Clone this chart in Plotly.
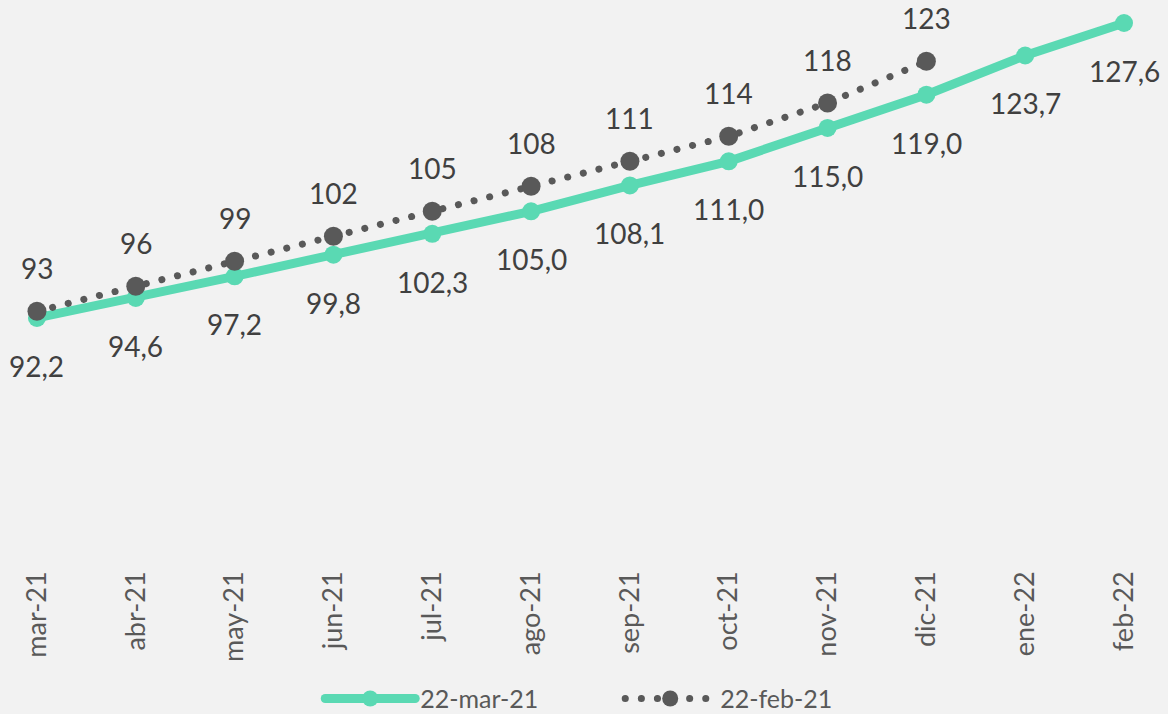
import plotly.graph_objects as go

# Monthly categories and the two series
months = ["mar-21", "abr-21", "may-21", "jun-21", "jul-21", "ago-21",
          "sep-21", "oct-21", "nov-21", "dic-21", "ene-22", "feb-22"]
serie_mar = [92.2, 94.6, 97.2, 99.8, 102.3, 105.0, 108.1, 111.0, 115.0, 119.0, 123.7, 127.6]
serie_feb = [93, 96, 99, 102, 105, 108, 111, 114, 118, 123]
name_mar = "22-mar-21"
name_feb = "22-feb-21"

GREEN = "#5ad9b3"
DARK = "#595959"
LABEL = "#404040"
BG = "#f2f2f2"
FONT = "Lato, 'Open Sans', sans-serif"

fig = go.Figure()
fig.add_trace(go.Scatter(
    x=months, y=serie_mar, name=name_mar, mode="lines+markers",
    line=dict(color=GREEN, width=9),
    marker=dict(color=GREEN, size=18),
))
fig.add_trace(go.Scatter(
    x=months[:len(serie_feb)], y=serie_feb, name=name_feb, mode="lines+markers",
    line=dict(color=DARK, width=7, dash="0.1px,16px"),
    marker=dict(color=DARK, size=19),
))

def fmt(v):
    return f"{v:.1f}".replace(".", ",")

annotations = []
for m, v in zip(months, serie_mar):
    annotations.append(dict(x=m, y=v, text=fmt(v), showarrow=False, yshift=-48,
                            font=dict(family=FONT, size=28, color=LABEL)))
for m, v in zip(months, serie_feb):
    annotations.append(dict(x=m, y=v, text=f"{v:.0f}", showarrow=False, yshift=43,
                            font=dict(family=FONT, size=28, color=LABEL)))

fig.update_layout(
    width=1168, height=714,
    margin=dict(l=0, r=0, t=0, b=159, autoexpand=False),
    paper_bgcolor=BG, plot_bgcolor=BG,
    showlegend=True,
    legend=dict(orientation="h", xanchor="center", x=0.531, yanchor="middle", y=-0.259,
                font=dict(family=FONT, size=25, color=DARK), itemwidth=90,
                bgcolor="rgba(0,0,0,0)", entrywidth=195),
    annotations=annotations,
    xaxis=dict(type="category", range=[-0.374, 11.445], showgrid=False, zeroline=False,
               showline=False, ticks="", tickangle=-90, ticklabelstandoff=10,
               automargin=False, tickfont=dict(family=FONT, size=27, color=DARK)),
    yaxis=dict(range=[63.75, 130.36], visible=False, showgrid=False, zeroline=False,
               automargin=False),
)

# Round line caps so the dotted series renders as round dots
post = """
document.querySelectorAll('.js-line, .legendlines path').forEach(function(p){
  p.style.strokeLinecap = 'round';
});
"""
fig.write_html("out.html", post_script=post)
